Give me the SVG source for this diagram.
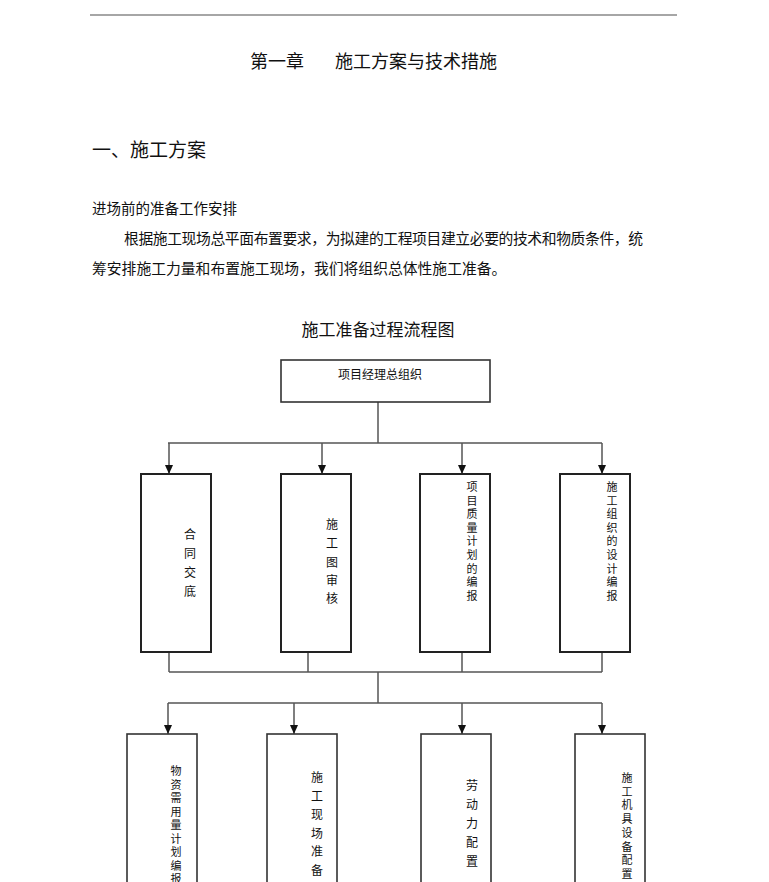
<svg xmlns="http://www.w3.org/2000/svg" width="769" height="882" viewBox="0 0 769 882">
<defs>
<style>
text{font-family:"Noto Sans CJK SC","Noto Sans CJK JP",sans-serif;fill:#111;dominant-baseline:central}
.box{fill:#fff;stroke:#333;stroke-width:1.6}
.box1{fill:#fff;stroke:#222;stroke-width:2}
.ln{fill:none;stroke:#555;stroke-width:1.5}
.vt{font-size:12px;text-anchor:middle}
.vs{font-size:11px;text-anchor:middle}
</style>
<marker id="ah" markerWidth="9" markerHeight="8" refX="9" refY="4" orient="auto" markerUnits="userSpaceOnUse" viewBox="0 0 9 8">
<path d="M0,0 L9,4 L0,8 Z" fill="#111"/>
</marker>
</defs>
<rect width="769" height="882" fill="#fff"/>
<line x1="90" y1="15" x2="677" y2="15" stroke="#888" stroke-width="1.5"/>
<text x="250" y="60" font-size="18">第一章</text>
<text x="335" y="60" font-size="18">施工方案与技术措施</text>
<text x="92" y="148" font-size="19">一、施工方案</text>
<text x="92" y="207" font-size="14.5">进场前的准备工作安排</text>
<text x="124" y="237" font-size="14.8" textLength="519" lengthAdjust="spacing">根据施工现场总平面布置要求，为拟建的工程项目建立必要的技术和物质条件，统</text>
<text x="92" y="267" font-size="14.8">筹安排施工力量和布置施工现场，我们将组织总体性施工准备。</text>
<text x="378" y="328" font-size="17" text-anchor="middle">施工准备过程流程图</text>

<g id="connectors">
<path class="ln" d="M378,402 V443 M168,443 H602"/>
<path class="ln" d="M169,443 V474" marker-end="url(#ah)"/>
<path class="ln" d="M322,443 V474" marker-end="url(#ah)"/>
<path class="ln" d="M462,443 V474" marker-end="url(#ah)"/>
<path class="ln" d="M602,443 V474" marker-end="url(#ah)"/>
<path class="ln" d="M169,652 V672 M308,652 V672 M462,652 V672 M602,652 V672 M169,672 H602 M378,672 V703 M168,703 H602"/>
<path class="ln" d="M168,703 V734" marker-end="url(#ah)"/>
<path class="ln" d="M294,703 V734" marker-end="url(#ah)"/>
<path class="ln" d="M462,703 V734" marker-end="url(#ah)"/>
<path class="ln" d="M602,703 V734" marker-end="url(#ah)"/>
</g>

<g id="n0">
<rect class="box" x="281" y="360" width="209" height="42"/>
<text x="380" y="373" font-size="12" text-anchor="middle">项目经理总组织</text>
</g>

<g id="n1">
<rect class="box1" x="141" y="474" width="70" height="178"/>
<text class="vt" x="190"><tspan x="190" y="533">合</tspan><tspan x="190" y="552">同</tspan><tspan x="190" y="571">交</tspan><tspan x="190" y="590">底</tspan></text>
</g>
<g id="n2">
<rect class="box1" x="281" y="474" width="70" height="178"/>
<text class="vt" x="332"><tspan x="332" y="523">施</tspan><tspan x="332" y="542">工</tspan><tspan x="332" y="561">图</tspan><tspan x="332" y="579">审</tspan><tspan x="332" y="597">核</tspan></text>
</g>
<g id="n3">
<rect class="box1" x="420" y="474" width="70" height="178"/>
<text class="vs" x="472"><tspan x="472" y="486">项</tspan><tspan x="472" y="499.6">目</tspan><tspan x="472" y="513.2">质</tspan><tspan x="472" y="526.8">量</tspan><tspan x="472" y="540.4">计</tspan><tspan x="472" y="554">划</tspan><tspan x="472" y="567.6">的</tspan><tspan x="472" y="581.2">编</tspan><tspan x="472" y="594.8">报</tspan></text>
</g>
<g id="n4">
<rect class="box1" x="560" y="474" width="70" height="178"/>
<text class="vs" x="612"><tspan x="612" y="486">施</tspan><tspan x="612" y="499.6">工</tspan><tspan x="612" y="513.2">组</tspan><tspan x="612" y="526.8">织</tspan><tspan x="612" y="540.4">的</tspan><tspan x="612" y="554">设</tspan><tspan x="612" y="567.6">计</tspan><tspan x="612" y="581.2">编</tspan><tspan x="612" y="594.8">报</tspan></text>
</g>

<g id="n5">
<rect class="box" x="127" y="734" width="70" height="160"/>
<text class="vs" x="176"><tspan x="176" y="770">物</tspan><tspan x="176" y="783.5">资</tspan><tspan x="176" y="797">需</tspan><tspan x="176" y="810.5">用</tspan><tspan x="176" y="824">量</tspan><tspan x="176" y="837.5">计</tspan><tspan x="176" y="851">划</tspan><tspan x="176" y="864.5">编</tspan><tspan x="176" y="878">报</tspan></text>
</g>
<g id="n6">
<rect class="box" x="267" y="734" width="70" height="160"/>
<text class="vt" x="317"><tspan x="317" y="776">施</tspan><tspan x="317" y="794.5">工</tspan><tspan x="317" y="813">现</tspan><tspan x="317" y="831.5">场</tspan><tspan x="317" y="850">准</tspan><tspan x="317" y="868.5">备</tspan></text>
</g>
<g id="n7">
<rect class="box" x="421" y="734" width="70" height="160"/>
<text class="vt" x="472"><tspan x="472" y="784">劳</tspan><tspan x="472" y="803">动</tspan><tspan x="472" y="822">力</tspan><tspan x="472" y="841">配</tspan><tspan x="472" y="860">置</tspan></text>
</g>
<g id="n8">
<rect class="box" x="575" y="734" width="70" height="160"/>
<text class="vs" x="627"><tspan x="627" y="777">施</tspan><tspan x="627" y="790.7">工</tspan><tspan x="627" y="804.4">机</tspan><tspan x="627" y="818.1">具</tspan><tspan x="627" y="831.8">设</tspan><tspan x="627" y="845.5">备</tspan><tspan x="627" y="859.2">配</tspan><tspan x="627" y="872.9">置</tspan></text>
</g>
</svg>
